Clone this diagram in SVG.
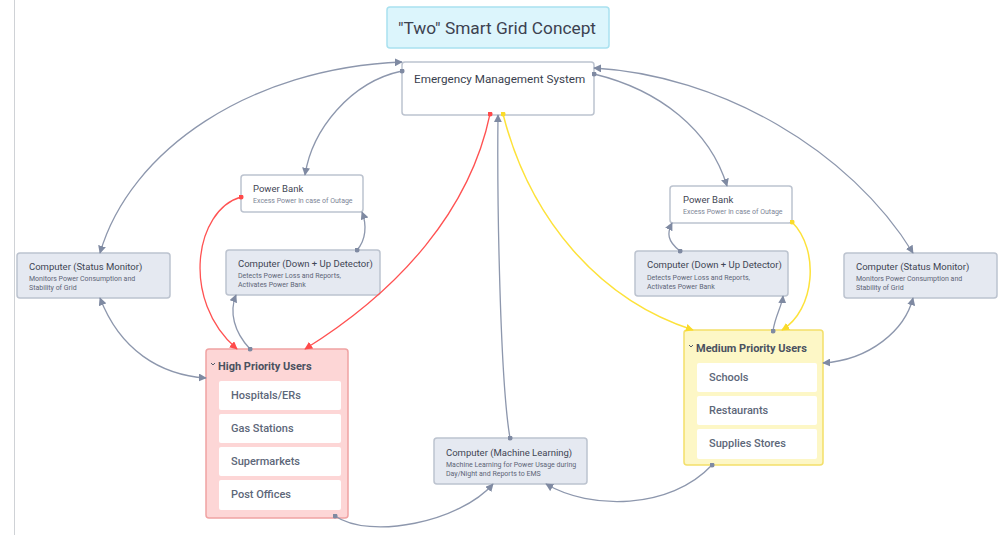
<svg xmlns="http://www.w3.org/2000/svg" width="1002" height="535" viewBox="0 0 1002 535">
<defs>
<style>
.bg{fill:#ffffff}
.title{fill:#dcf5fc;stroke:#a9e1ef;stroke-width:1.5}
.box{fill:#ffffff;stroke:#bcc3cf;stroke-width:1.5}
.comp{fill:#e5e9f1;stroke:#bcc3cf;stroke-width:1.5}
.high{fill:#fdd6d6;stroke:#f0a3a3;stroke-width:1.5}
.med{fill:#fdf7c6;stroke:#f3df6a;stroke-width:1.5}
.item{fill:#ffffff}
text{font-family:Roboto,"Liberation Sans",sans-serif}
.t1{font-size:17.3px;fill:#3c4250}
.t2{font-size:11.7px;fill:#3a414e}
.nt{font-size:9.5px;fill:#3f4654}
.nd{font-size:7px;fill:#5d6577}
.pd{font-size:7px;fill:#7d8596}
.gh{font-size:11px;font-weight:700;fill:#4a5160}
.it{font-size:11px;font-weight:500;fill:#5d6779}
.g{fill:none;stroke:#8d97ad;stroke-width:1.3}
.r{fill:none;stroke:#ff5252;stroke-width:1.3}
.y{fill:none;stroke:#fde23a;stroke-width:1.5}
.chev{fill:none;stroke:#555c6a;stroke-width:1}
</style>
<marker id="ag" viewBox="0 0 10 10" refX="9" refY="5" markerWidth="8" markerHeight="8" markerUnits="userSpaceOnUse" orient="auto-start-reverse"><path d="M0,0 L10,5 L0,10 z" fill="#7f8aa2"/></marker>
<marker id="ar" viewBox="0 0 10 10" refX="9" refY="5" markerWidth="8" markerHeight="8" markerUnits="userSpaceOnUse" orient="auto-start-reverse"><path d="M0,0 L10,5 L0,10 z" fill="#ff4a4a"/></marker>
<marker id="ay" viewBox="0 0 10 10" refX="9" refY="5" markerWidth="8" markerHeight="8" markerUnits="userSpaceOnUse" orient="auto-start-reverse"><path d="M0,0 L10,5 L0,10 z" fill="#fadb2a"/></marker>
<marker id="dg" viewBox="0 0 10 10" refX="5" refY="5" markerWidth="5" markerHeight="5" markerUnits="userSpaceOnUse"><circle cx="5" cy="5" r="5" fill="#7f8aa2"/></marker>
<marker id="dr" viewBox="0 0 10 10" refX="5" refY="5" markerWidth="5" markerHeight="5" markerUnits="userSpaceOnUse"><circle cx="5" cy="5" r="5" fill="#ff4a4a"/></marker>
<marker id="dy" viewBox="0 0 10 10" refX="5" refY="5" markerWidth="5" markerHeight="5" markerUnits="userSpaceOnUse"><circle cx="5" cy="5" r="5" fill="#fadb2a"/></marker>
</defs>
<rect class="bg" x="0" y="0" width="1002" height="535"/>
<line x1="14.5" y1="0" x2="14.5" y2="535" stroke="#cfd2d6" stroke-width="1"/>

<g id="title">
<rect class="title" x="387" y="7" width="222" height="41" rx="3"/>
<text class="t1" x="497" y="34" text-anchor="middle">"Two" Smart Grid Concept</text>
</g>

<g id="ems">
<rect class="box" x="402" y="62" width="192" height="53" rx="3"/>
<text class="t2" x="414" y="83">Emergency Management System</text>
</g>

<g id="powerbank-left">
<rect class="box" x="241" y="175" width="122" height="37" rx="3"/>
<text class="nt" x="253" y="192">Power Bank</text>
<text class="pd" x="253" y="203">Excess Power in case of Outage</text>
</g>

<g id="detector-left">
<rect class="comp" x="226" y="250" width="154" height="45" rx="3"/>
<text class="nt" x="238" y="267">Computer (Down + Up Detector)</text>
<text class="nd" x="238" y="278">Detects Power Loss and Reports,</text>
<text class="nd" x="238" y="287">Activates Power Bank</text>
</g>

<g id="status-left">
<rect class="comp" x="17" y="253" width="153" height="45" rx="3"/>
<text class="nt" x="29" y="270">Computer (Status Monitor)</text>
<text class="nd" x="29" y="281">Monitors Power Consumption and</text>
<text class="nd" x="29" y="290">Stability of Grid</text>
</g>

<g id="high-priority">
<rect class="high" x="206" y="349" width="142" height="169" rx="3"/>
<polyline class="chev" points="211,363 213,365 215,363"/>
<text class="gh" x="218" y="370">High Priority Users</text>
<rect class="item" x="219" y="381" width="122" height="29" rx="2"/>
<text class="it" x="231" y="399">Hospitals/ERs</text>
<rect class="item" x="219" y="414" width="122" height="29" rx="2"/>
<text class="it" x="231" y="432">Gas Stations</text>
<rect class="item" x="219" y="447" width="122" height="29" rx="2"/>
<text class="it" x="231" y="465">Supermarkets</text>
<rect class="item" x="219" y="480" width="122" height="30" rx="2"/>
<text class="it" x="231" y="498">Post Offices</text>
</g>

<g id="ml">
<rect class="comp" x="434" y="438" width="153" height="46" rx="3"/>
<text class="nt" x="446" y="456">Computer (Machine Learning)</text>
<text class="nd" x="446" y="467">Machine Learning for Power Usage during</text>
<text class="nd" x="446" y="476">Day/Night and Reports to EMS</text>
</g>

<g id="powerbank-right">
<rect class="box" x="670" y="186" width="122" height="37" rx="3"/>
<text class="nt" x="683" y="203">Power Bank</text>
<text class="pd" x="683" y="214">Excess Power in case of Outage</text>
</g>

<g id="detector-right">
<rect class="comp" x="635" y="251" width="153" height="45" rx="3"/>
<text class="nt" x="647" y="268">Computer (Down + Up Detector)</text>
<text class="nd" x="647" y="280">Detects Power Loss and Reports,</text>
<text class="nd" x="647" y="289">Activates Power Bank</text>
</g>

<g id="status-right">
<rect class="comp" x="844" y="253" width="153" height="45" rx="3"/>
<text class="nt" x="856" y="270">Computer (Status Monitor)</text>
<text class="nd" x="856" y="281">Monitors Power Consumption and</text>
<text class="nd" x="856" y="290">Stability of Grid</text>
</g>

<g id="medium-priority">
<rect class="med" x="684" y="330" width="139" height="135" rx="3"/>
<polyline class="chev" points="689,345 691,347 693,345"/>
<text class="gh" x="696" y="352">Medium Priority Users</text>
<rect class="item" x="697" y="363" width="120" height="29" rx="2"/>
<text class="it" x="709" y="381">Schools</text>
<rect class="item" x="697" y="396" width="120" height="29" rx="2"/>
<text class="it" x="709" y="414">Restaurants</text>
<rect class="item" x="697" y="429" width="120" height="30" rx="2"/>
<text class="it" x="709" y="447">Supplies Stores</text>
</g>

<g id="connectors">
<path class="g" d="M402,62 C250,68 130,150 100,253" marker-start="url(#ag)" marker-end="url(#ag)"/>
<path class="g" d="M100,298 C120,350 160,375 206,378" marker-start="url(#ag)" marker-end="url(#ag)"/>
<path class="g" d="M402,71 C350,82 312,130 305,175" marker-start="url(#dg)" marker-end="url(#ag)"/>
<path class="g" d="M357,250 C366,240 367,225 362,212" marker-start="url(#dg)" marker-end="url(#ag)"/>
<path class="g" d="M250,349 C234,332 229,312 236,295" marker-start="url(#dg)" marker-end="url(#ag)"/>
<path class="r" d="M241,197 C195,210 180,300 237,349" marker-start="url(#dr)" marker-end="url(#ar)"/>
<path class="r" d="M490,114 C470,210 400,290 305,349" marker-start="url(#dr)" marker-end="url(#ar)"/>
<path class="g" d="M510,438 C500,380 497,200 498,115" marker-start="url(#dg)" marker-end="url(#ag)"/>
<path class="y" d="M503,114 C530,220 600,300 693,330" marker-start="url(#dy)" marker-end="url(#ay)"/>
<path class="y" d="M792,222 C820,250 815,310 782,330" marker-start="url(#dy)" marker-end="url(#ay)"/>
<path class="g" d="M773,331 C775,316 782,306 783,296" marker-start="url(#dg)" marker-end="url(#ag)"/>
<path class="g" d="M680,251 C667,241 667,233 672,223" marker-start="url(#dg)" marker-end="url(#ag)"/>
<path class="g" d="M594,74 C660,90 710,130 727,186" marker-start="url(#dg)" marker-end="url(#ag)"/>
<path class="g" d="M913,253 C850,150 720,75 594,68" marker-start="url(#ag)" marker-end="url(#ag)"/>
<path class="g" d="M913,298 C905,330 870,360 823,363" marker-start="url(#ag)" marker-end="url(#ag)"/>
<path class="g" d="M335,516 C370,540 460,522 493,484" marker-start="url(#dg)" marker-end="url(#ag)"/>
<path class="g" d="M712,465 C670,510 590,510 546,484" marker-start="url(#dg)" marker-end="url(#ag)"/>
</g>
</svg>
